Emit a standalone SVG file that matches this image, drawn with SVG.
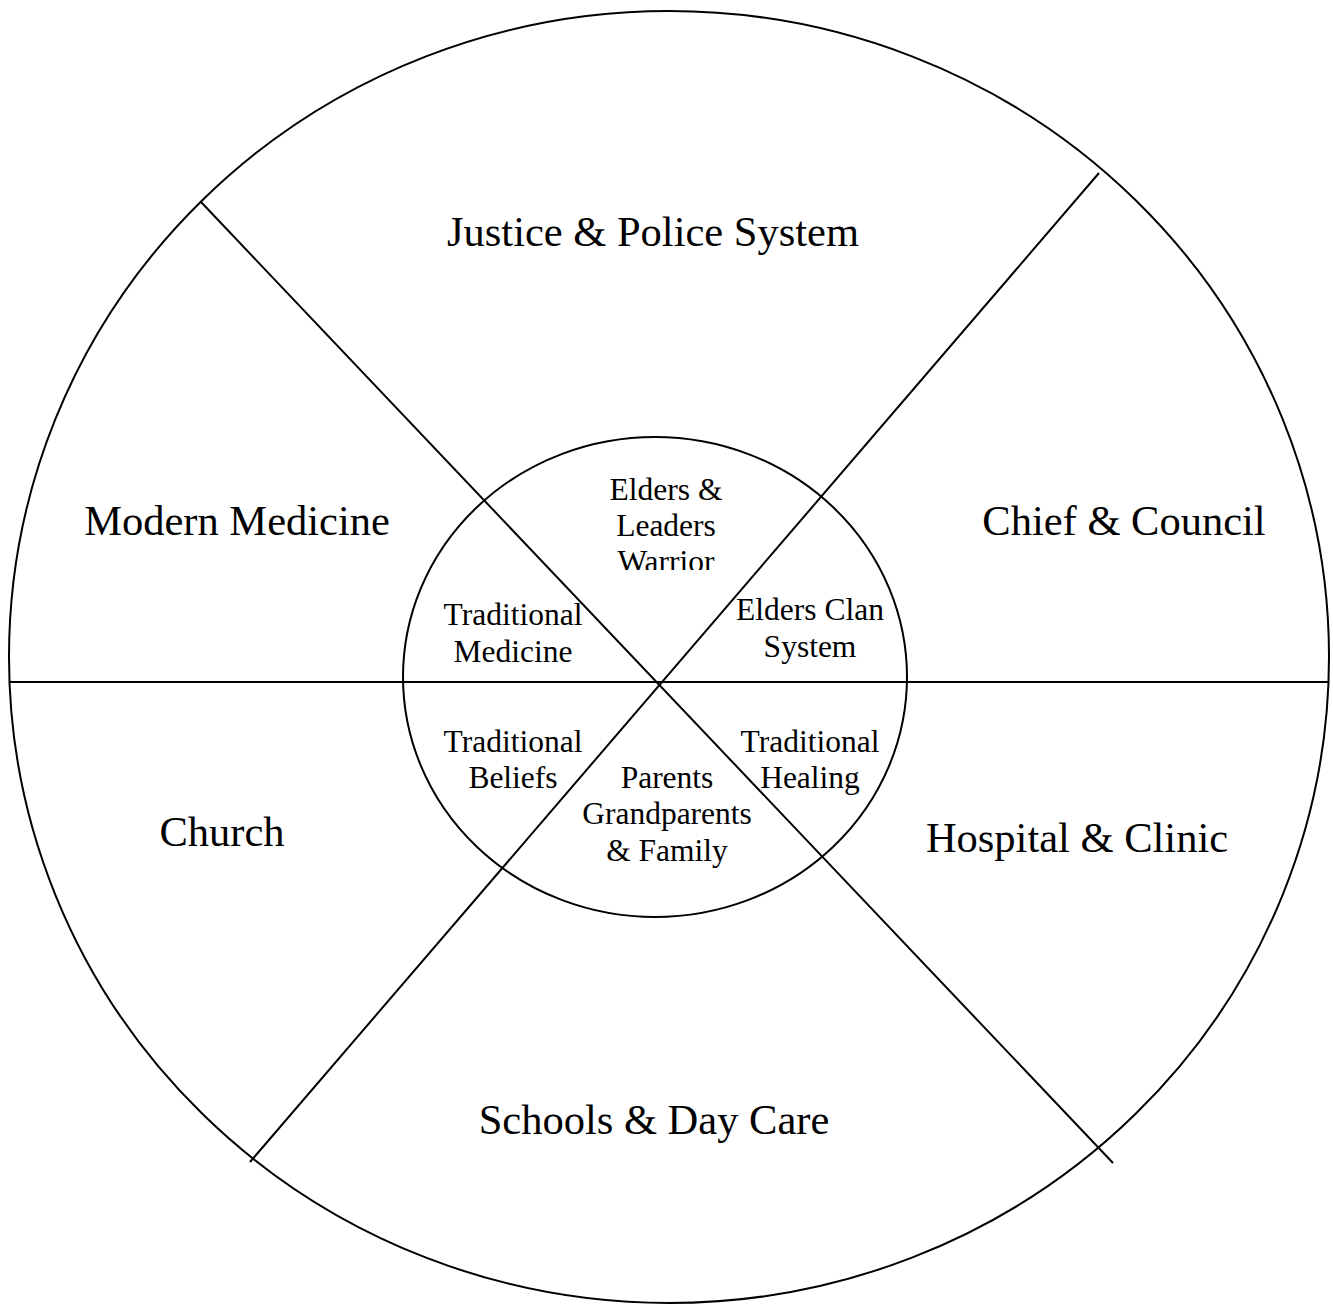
<svg xmlns="http://www.w3.org/2000/svg" width="1333" height="1305" viewBox="0 0 1333 1305">
  <style>
    .ring { fill: none; stroke: #000; stroke-width: 2; }
    .spoke { stroke: #000; stroke-width: 2; fill: none; }
    .outer { font-family: "Liberation Serif", "Times New Roman", serif; font-size: 42.5px; fill: #000; text-anchor: middle; }
    .inner { font-family: "Liberation Serif", "Times New Roman", serif; font-size: 31.5px; fill: #000; text-anchor: middle; }
  </style>
  <defs>
    <clipPath id="eldersClip">
      <rect x="560" y="460" width="210" height="110"/>
    </clipPath>
  </defs>
  <rect width="1333" height="1305" fill="#fff"/>

  <g id="outer-ring">
    <ellipse class="ring" cx="669" cy="657" rx="660" ry="646"/>
  </g>

  <g id="connectors">
    <line class="spoke" x1="9" y1="682" x2="1329" y2="682"/>
    <line class="spoke" x1="201" y1="202" x2="1113" y2="1163"/>
    <line class="spoke" x1="1099" y1="173" x2="250" y2="1162"/>
  </g>

  <g id="inner-ring">
    <ellipse class="ring" cx="655" cy="677" rx="252" ry="240"/>
  </g>

  <!-- outer sectors -->
  <g id="justice"><text class="outer" x="653" y="246">Justice &amp; Police System</text></g>
  <g id="modern-medicine"><text class="outer" x="237" y="535">Modern Medicine</text></g>
  <g id="chief-council"><text class="outer" x="1124" y="535">Chief &amp; Council</text></g>
  <g id="church"><text class="outer" x="222" y="846">Church</text></g>
  <g id="hospital"><text class="outer" x="1077" y="852">Hospital &amp; Clinic</text></g>
  <g id="schools"><text class="outer" x="654" y="1134">Schools &amp; Day Care</text></g>

  <!-- inner sectors -->
  <g id="elders-leaders" clip-path="url(#eldersClip)">
    <text class="inner" x="666" y="500">Elders &amp;</text>
    <text class="inner" x="666" y="536">Leaders</text>
    <text class="inner" x="666" y="572">Warrior</text>
  </g>
  <g id="traditional-medicine">
    <text class="inner" x="513" y="625">Traditional</text>
    <text class="inner" x="513" y="662">Medicine</text>
  </g>
  <g id="elders-clan">
    <text class="inner" x="810" y="620">Elders Clan</text>
    <text class="inner" x="810" y="657">System</text>
  </g>
  <g id="traditional-beliefs">
    <text class="inner" x="513" y="752">Traditional</text>
    <text class="inner" x="513" y="788">Beliefs</text>
  </g>
  <g id="traditional-healing">
    <text class="inner" x="810" y="752">Traditional</text>
    <text class="inner" x="810" y="788">Healing</text>
  </g>
  <g id="family">
    <text class="inner" x="667" y="788">Parents</text>
    <text class="inner" x="667" y="824">Grandparents</text>
    <text class="inner" x="667" y="861">&amp; Family</text>
  </g>
</svg>
